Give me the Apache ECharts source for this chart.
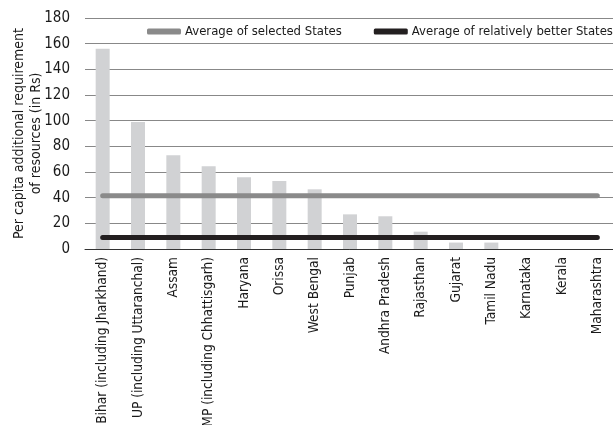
<!DOCTYPE html>
<html>
<head>
<meta charset="utf-8">
<script src="https://cdn.jsdelivr.net/npm/echarts@6/dist/echarts.min.js"></script>
<style>
  html, body { margin: 0; padding: 0; background: #fff; }
  #chart { width: 613px; height: 425px; }
</style>
</head>
<body>
<div id="chart"></div>
<script>
const states = [
  "Bihar (including Jharkhand)", "UP (including Uttaranchal)", "Assam",
  "MP (including Chhattisgarh)", "Haryana", "Orissa", "West Bengal", "Punjab",
  "Andhra Pradesh", "Rajasthan", "Gujarat", "Tamil Nadu", "Karnataka", "Kerala",
  "Maharashtra"
];
const requirement = [156, 99, 73, 64.5, 56, 53, 46.5, 27, 25.5, 13.5, 5, 5, 0, 0, 0];
const avgSelected = 41.5;
const avgBetter = 9;

const font = "DejaVu Sans Condensed";
const chart = echarts.init(document.getElementById("chart"));

chart.setOption({
  animation: false,
  backgroundColor: "#fff",
  textStyle: { fontFamily: font, color: "#1a1a1a" },
  grid: { left: 85, right: -2, top: 18, bottom: 176, outerBoundsMode: "none", containLabel: false },
  legend: {
    top: 25,
    left: 147,
    width: 480,
    padding: 0,
    itemGap: 32,
    itemWidth: 34,
    itemHeight: 6,
    icon: "roundRect",
    textStyle: { fontFamily: font, fontSize: 13, color: "#1a1a1a", padding: [0, 0, 0, -1] },
    data: ["Average of selected States", "Average of relatively better States"]
  },
  xAxis: {
    type: "category",
    data: states,
    axisLine: { lineStyle: { color: "#333", width: 1 } },
    axisTick: { show: false },
    axisLabel: {
      rotate: 90,
      interval: 0,
      margin: 8,
      fontSize: 13.6,
      color: "#1a1a1a",
      fontFamily: font
    }
  },
  yAxis: {
    type: "value",
    min: 0,
    max: 180,
    interval: 20,
    name: "Per capita additional requirement\nof resources (in Rs)",
    nameLocation: "middle",
    nameRotate: 90,
    nameGap: 40,
    nameMoveOverlap: false,
    nameTextStyle: { fontSize: 14, color: "#1a1a1a", fontFamily: font, lineHeight: 17 },
    axisLine: { show: false },
    axisTick: { show: false },
    axisLabel: { fontSize: 15, color: "#1a1a1a", margin: 15, fontFamily: font },
    splitLine: { lineStyle: { color: "#888", width: 1.2 } }
  },
  series: [
    {
      name: "Requirement",
      type: "bar",
      data: requirement,
      barWidth: 14,
      itemStyle: { color: "#d1d2d4" },
      z: 1
    },
    {
      name: "Average of selected States",
      type: "line",
      data: states.map(() => avgSelected),
      symbol: "none",
      lineStyle: { color: "#8a8a8a", width: 5, cap: "round" },
      itemStyle: { color: "#8a8a8a" },
      z: 3
    },
    {
      name: "Average of relatively better States",
      type: "line",
      data: states.map(() => avgBetter),
      symbol: "none",
      lineStyle: { color: "#231f20", width: 5, cap: "round" },
      itemStyle: { color: "#231f20" },
      z: 3
    }
  ]
});
</script>
</body>
</html>
